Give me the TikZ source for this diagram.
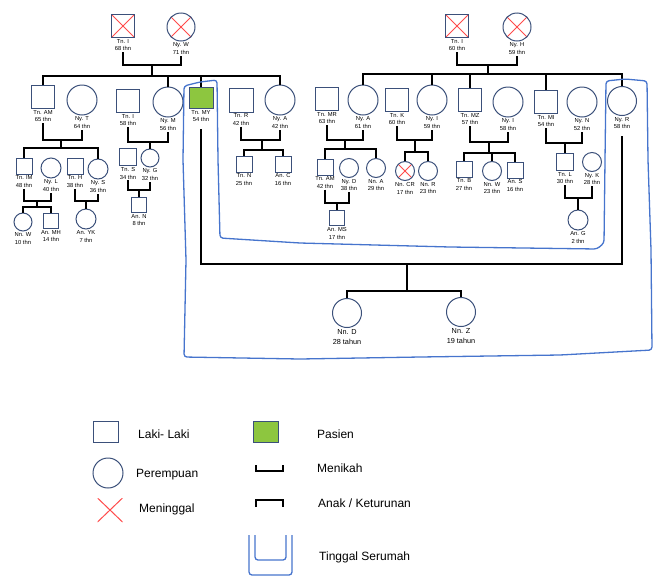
\documentclass[tikz,border=0pt]{standalone}
\usepackage{fontspec}
\setmainfont{Liberation Sans}
\usetikzlibrary{positioning}
\definecolor{nodeblue}{RGB}{59,80,122}
\definecolor{patgreen}{RGB}{141,198,63}
\definecolor{deadred}{RGB}{255,75,75}
\definecolor{houseblue}{RGB}{70,116,205}
\tikzset{
  person/.style={draw=nodeblue, line width=1pt, inner sep=0pt},
  male/.style={person, minimum width=#1, minimum height=#1},
  female/.style={person, circle, minimum size=#1},
  dead/.style={path picture={\draw[deadred, line width=1pt]
    (path picture bounding box.north west) -- (path picture bounding box.south east)
    (path picture bounding box.north east) -- (path picture bounding box.south west);}},
  patient/.style={fill=patgreen},
  lbl/.style={font=\fontsize{5.8}{7.8}\selectfont, align=center, inner sep=1pt},
  biglbl/.style={font=\fontsize{7.3}{10}\selectfont, align=center, inner sep=1pt},
  conn/.style={line width=1.6pt},
  house/.style={draw=houseblue, line width=1.3pt, rounded corners=3pt},
  legtext/.style={font=\fontsize{12}{14}\selectfont, anchor=west, inner sep=0pt}
}
\begin{document}
\begin{tikzpicture}[x=1pt,y=-1pt]
\useasboundingbox (0,0) rectangle (660,576);

% grandparents, left side
\node[male=23, dead, label={[lbl,name=gpA-l]below:{Tn. I\\68 thn}}] (gpA) at (123,26) {};
\node[female=28, dead, label={[lbl,name=gpB-l]below:{Ny. W\\71 thn}}] (gpB) at (181,27) {};

% children, left side
\node[male=23, label={[lbl,name=tnAM-l]below:{Tn. AM\\65 thn}}] (tnAM) at (43,97) {};
\node[female=30, label={[lbl,name=nyT-l]below:{Ny. T\\64 thn}}] (nyT) at (82,100) {};
\node[male=23, label={[lbl,name=tnI2-l]below:{Tn. I\\58 thn}}] (tnI2) at (128,101) {};
\node[female=30, label={[lbl,name=nyM-l]below:{Ny. M\\56 thn}}] (nyM) at (168,102) {};
\node[male=24, minimum height=21, patient, label={[lbl,name=tnMY-l]below:{Tn. MY\\54 thn}}] (tnMY) at (201,98) {};
\node[male=24, label={[lbl,name=tnR-l]below:{Tn. R\\42 thn}}] (tnR) at (241,100) {};
\node[female=30, label={[lbl,name=nyA-l]below:{Ny. A\\42 thn}}] (nyA) at (280,100) {};

% grandchildren, left side
\node[male=16, label={[lbl,name=tnIM-l]below:{Tn. IM\\48 thn}}] (tnIM) at (24,166) {};
\node[female=20, label={[lbl,name=nyL-l]below:{Ny. L\\40 thn}}] (nyL) at (51,168) {};
\node[male=16, label={[lbl,name=tnH-l]below:{Tn. H\\38 thn}}] (tnH) at (75,166) {};
\node[female=20, label={[lbl,name=nyS-l]below:{Ny. S\\36 thn}}] (nyS) at (98,169) {};
\node[male=17, label={[lbl,name=tnS-l]below:{Tn. S\\34 thn}}] (tnS) at (128,157) {};
\node[female=18, label={[lbl,name=nyG-l]below:{Ny. G\\32 thn}}] (nyG) at (150,158) {};
\node[male=16, label={[lbl,name=tnN-l]below:{Tn. N\\25 thn}}] (tnN) at (244,164) {};
\node[male=16, label={[lbl,name=anC-l]below:{An. C\\16 thn}}] (anC) at (283,164) {};

\node[female=18, label={[lbl,name=nnW-l]below:{Nn. W\\10 thn}}] (nnW) at (23,222) {};
\node[male=15, label={[lbl,name=anMH-l]below:{An. MH\\14 thn}}] (anMH) at (51,221) {};
\node[female=20, label={[lbl,name=anYK-l]below:{An. YK\\7 thn}}] (anYK) at (86,219) {};
\node[male=15, label={[lbl,name=anN-l]below:{An. N\\8 thn}}] (anN) at (139,205) {};

% grandparents, right side
\node[male=23, dead, label={[lbl,name=gpC-l]below:{Tn. I\\60 thn}}] (gpC) at (457,26) {};
\node[female=28, dead, label={[lbl,name=gpD-l]below:{Ny. H\\59 thn}}] (gpD) at (517,27) {};

% children, right side
\node[male=23, label={[lbl,name=tnMR-l]below:{Tn. MR\\63 thn}}] (tnMR) at (327,99) {};
\node[female=30, label={[lbl,name=nyA2-l]below:{Ny. A\\61 thn}}] (nyA2) at (363,100) {};
\node[male=23, label={[lbl,name=tnK-l]below:{Tn. K\\60 thn}}] (tnK) at (397,100) {};
\node[female=30, label={[lbl,name=nyI-l]below:{Ny. I\\59 thn}}] (nyI) at (432,100) {};
\node[male=23, label={[lbl,name=tnMZ-l]below:{Tn. MZ\\57 thn}}] (tnMZ) at (470,100) {};
\node[female=30, label={[lbl,name=nyI2-l]below:{Ny. I\\58 thn}}] (nyI2) at (508,102) {};
\node[male=23, label={[lbl,name=tnMI-l]below:{Tn. MI\\54 thn}}] (tnMI) at (546,102) {};
\node[female=30, label={[lbl,name=nyN-l]below:{Ny. N\\52 thn}}] (nyN) at (582,102) {};
\node[female=29, label={[lbl,name=nyR-l]below:{Ny. R\\58 thn}}] (nyR) at (622,101) {};

% grandchildren, right side
\node[male=16, label={[lbl,name=tnAM2-l]below:{Tn. AM\\42 thn}}] (tnAM2) at (325,167) {};
\node[female=19, label={[lbl,name=nyD-l]below:{Ny. D\\38 thn}}] (nyD) at (349,168) {};
\node[female=19, label={[lbl,name=nnA-l]below:{Nn. A\\29 thn}}] (nnA) at (376,168) {};
\node[female=19, dead, label={[lbl,name=nnCR-l]below:{Nn. CR\\17 thn}}] (nnCR) at (405,171) {};
\node[female=19, label={[lbl,name=nnR-l]below:{Nn. R\\23 thn}}] (nnR) at (428,171) {};
\node[male=16, label={[lbl,name=tnB-l]below:{Tn. B\\27 thn}}] (tnB) at (464,169) {};
\node[female=19, label={[lbl,name=nnW2-l]below:{Nn. W\\23 thn}}] (nnW2) at (492,171) {};
\node[male=16, label={[lbl,name=anS-l]below:{An. S\\16 thn}}] (anS) at (515,170) {};
\node[male=17, label={[lbl,name=tnL-l]below:{Tn. L\\30 thn}}] (tnL) at (565,162) {};
\node[female=19, label={[lbl,name=nyK-l]below:{Ny. K\\28 thn}}] (nyK) at (592,162) {};

\node[male=15, label={[lbl,name=anMS-l]below:{An. MS\\17 thn}}] (anMS) at (337,218) {};
\node[female=20, label={[lbl,name=anG-l]below:{An. G\\2 thn}}] (anG) at (578,220) {};

% patient's children
\node[female=29, label={[biglbl,name=nnD-l]below:{Nn. D\\28 tahun}}] (nnD) at (347,313) {};
\node[female=29, label={[biglbl,name=nnZ-l]below:{Nn. Z\\19 tahun}}] (nnZ) at (461,312) {};

% left family lines
\coordinate (mA) at (152,65);
\coordinate (sA) at (152,76);
\draw[conn] (gpA-l.south) |- (mA) -| (gpB-l.south);
\draw[conn] (mA) -- (sA);
\draw[conn] (tnAM.north) |- (sA) -| (nyA.north);
\foreach \n in {nyM,tnMY}
  \draw[conn] (\n.north) -- (\n.north |- sA);

\coordinate (mB) at (61,140);
\coordinate (sB) at (61,148);
\draw[conn] (tnAM-l.south) |- (mB) -| (nyT-l.south);
\draw[conn] (mB) -- (sB);
\draw[conn] (tnIM.north) |- (sB) -| (nyS.north);

\coordinate (mC) at (150,142);
\draw[conn] (tnI2-l.south) |- (mC) -| (nyM-l.south);
\draw[conn] (mC) -- (nyG.north);

\coordinate (mD) at (262,140);
\coordinate (sD) at (262,150);
\draw[conn] (tnR-l.south) |- (mD) -| (nyA-l.south);
\draw[conn] (mD) -- (sD);
\draw[conn] (tnN.north) |- (sD) -| (anC.north);

\coordinate (mE) at (37,201);
\coordinate (sE) at (37,207);
\draw[conn] (tnIM-l.south) |- (mE) -| (nyL-l.south);
\draw[conn] (mE) -- (sE);
\draw[conn] (nnW.north) |- (sE) -| (anMH.north);

\coordinate (mF) at (86,201);
\draw[conn] (tnH-l.south) |- (mF) -| (nyS-l.south);
\draw[conn] (mF) -- (anYK.north);

\coordinate (mG) at (139,190);
\draw[conn] (tnS-l.south) |- (mG) -| (nyG-l.south);
\draw[conn] (mG) -- (anN.north);

% right family lines
\coordinate (mI) at (488,65);
\coordinate (sI) at (488,74);
\draw[conn] (gpC-l.south) |- (mI) -| (gpD-l.south);
\draw[conn] (mI) -- (sI);
\draw[conn] (nyA2.north) |- (sI) -| (nyR.north);
\foreach \n in {nyI,tnMZ,tnMI}
  \draw[conn] (\n.north) -- (\n.north |- sI);

\coordinate (mJ) at (345,140);
\coordinate (sJ) at (345,149);
\draw[conn] (tnMR-l.south) |- (mJ) -| (nyA2-l.south);
\draw[conn] (mJ) -- (sJ);
\draw[conn] (tnAM2.north) |- (sJ) -| (nnA.north);

\coordinate (mK) at (415,140);
\coordinate (sK) at (415,152);
\draw[conn] (tnK-l.south) |- (mK) -| (nyI-l.south);
\draw[conn] (mK) -- (sK);
\draw[conn] (nnCR.north) |- (sK) -| (nnR.north);

\coordinate (mL) at (489,142);
\coordinate (sL) at (489,153);
\draw[conn] (tnMZ-l.south) |- (mL) -| (nyI2-l.south);
\draw[conn] (mL) -- (sL);
\draw[conn] (tnB.north) |- (sL) -| (anS.north);
\draw[conn] (nnW2.north) -- (nnW2.north |- sL);

\coordinate (mM) at (565,143);
\draw[conn] (tnMI-l.south) |- (mM) -| (nyN-l.south);
\draw[conn] (mM) -- (tnL.north);

\coordinate (mN) at (337,203);
\draw[conn] (tnAM2-l.south) |- (mN) -| (nyD-l.south);
\draw[conn] (mN) -- (anMS.north);

\coordinate (mO) at (578,198);
\draw[conn] (tnL-l.south) |- (mO) -| (nyK-l.south);
\draw[conn] (mO) -- (anG.north);

% patient marriage
\coordinate (jR) at (622,264);
\coordinate (mH) at (407,264);
\coordinate (sH) at (407,291);
\draw[conn] ([yshift=-6pt]tnMY-l.south) |- (jR) -- ([yshift=-6pt]nyR-l.south);
\draw[conn] (mH) -- (sH);
\draw[conn] (nnD.north) |- (sH) -| (nnZ.north);

% living in one house
\draw[house] (217,80) -- (200,82) -- (184,86) -- (183,160) -- (186,260) -- (184,357)
  -- (300,359) -- (420,357) -- (560,355) -- (652,350) -- (651,250) -- (648,160)
  -- (647,81) -- (625,79) -- (606,81) -- (605,160) -- (604,243) -- (597,249)
  -- (450,247) -- (300,243) -- (220,238) -- (218,160) -- cycle;

% legend
\node[male=25, minimum height=21] (legM) at (106,432) {};
\node[legtext] (legM-t) at (138,434) {Laki- Laki};
\node[female=30] (legF) at (108,473) {};
\node[legtext] (legF-t) at (136,475) {Perempuan};
\node[dead, minimum width=25, minimum height=24, inner sep=0pt] (legD) at (110,510) {};
\node[legtext] (legD-t) at (139,509) {Meninggal};
\node[male=25, minimum height=21, patient] (legP) at (266,432) {};
\node[legtext] (legP-t) at (317,434) {Pasien};
\draw[line width=1.5pt] (256,465) -- (256,471) -- (283,471) -- (283,465);
\node[legtext] (legMk-t) at (317,468) {Menikah};
\draw[line width=1.5pt] (256,507) -- (256,500) -- (283,500) -- (283,507);
\node[legtext] (legAn-t) at (318,503) {Anak / Keturunan};
\draw[house] (249,535) -- (249,575) -- (292,575) -- (292,535);
\draw[house] (255,535) -- (255,560) -- (286,560) -- (286,535);
\node[legtext] (legH-t) at (319,557) {Tinggal Serumah};
\end{tikzpicture}
\end{document}
